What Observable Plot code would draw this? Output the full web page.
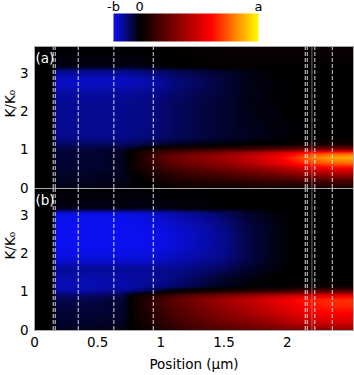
<!DOCTYPE html>
<html>
<head>
<meta charset="utf-8">
<script src="https://cdn.jsdelivr.net/npm/d3@7"></script>
<script src="https://cdn.jsdelivr.net/npm/@observablehq/plot@0.6"></script>
<style>
  body { margin: 0; background: #fff; }
  svg { display: block; }
</style>
</head>
<body>
<div id="chart"></div>
<script>
// ---- data (values in units of a; -b = -B) ----
const B = 0.22;
const barTicks = [-B, 0, 1];
const barTickLabels = ["-b", "0", "a"];
const xTicks = [0, 0.5, 1, 1.5, 2];
const yTicks = [0, 1, 2, 3];
const panels = ["a", "b"];
const panelLabels = ["(a)", "(b)"];
const dashedX = [0.148, 0.164, 0.346, 0.628, 0.94, 2.143, 2.159, 2.219, 2.357];
const solidX = [2.196];

// grid positions (μm) and K/K0 rows
const xs = [0, 0.15, 0.17, 0.4, 0.7, 0.8, 0.95, 1.1, 1.3, 1.5, 1.7, 1.9, 2.05, 2.2, 2.35, 2.525];
const ks = [0, 0.2, 0.45, 0.65, 0.8, 0.92, 1.02, 1.15, 1.35, 1.6, 1.85, 2.2, 2.5, 2.7, 2.85, 3.05, 3.18, 3.7];

const panelA = [
  [0, 0, -0.02, -0.02, -0.015, -0.01, 0, 0.01, 0.02, 0.02, 0.03, 0.03, 0.03, 0.04, 0.04, 0.04],
  [0, 0, -0.03, -0.03, -0.02, 0, 0.03, 0.06, 0.08, 0.1, 0.12, 0.14, 0.15, 0.17, 0.18, 0.18],
  [0, 0, -0.04, -0.04, -0.03, 0.02, 0.08, 0.14, 0.18, 0.22, 0.27, 0.33, 0.38, 0.45, 0.48, 0.48],
  [0, 0, -0.05, -0.05, -0.03, 0.04, 0.14, 0.22, 0.28, 0.34, 0.42, 0.52, 0.6, 0.7, 0.74, 0.76],
  [0, 0, -0.05, -0.05, -0.03, 0.05, 0.16, 0.26, 0.32, 0.38, 0.46, 0.56, 0.67, 0.8, 0.86, 0.88],
  [0, 0, -0.05, -0.05, -0.03, 0.04, 0.12, 0.2, 0.26, 0.32, 0.4, 0.5, 0.58, 0.68, 0.72, 0.74],
  [0, 0, -0.06, -0.06, -0.04, 0, 0.05, 0.08, 0.1, 0.13, 0.16, 0.2, 0.24, 0.28, 0.3, 0.3],
  [0, 0, -0.09, -0.09, -0.09, -0.08, -0.06, -0.04, -0.02, -0.01, 0, 0.01, 0.02, 0.03, 0.04, 0.04],
  [0, 0, -0.13, -0.13, -0.13, -0.12, -0.11, -0.085, -0.065, -0.045, -0.03, -0.015, -0.005, 0, 0.005, 0.01],
  [0, 0, -0.135, -0.135, -0.13, -0.125, -0.115, -0.087, -0.065, -0.045, -0.025, -0.012, -0.005, 0, 0, 0],
  [0, 0, -0.135, -0.135, -0.13, -0.125, -0.115, -0.087, -0.065, -0.045, -0.022, -0.01, 0, 0, 0, 0],
  [0, 0, -0.135, -0.135, -0.13, -0.125, -0.115, -0.087, -0.065, -0.043, -0.02, -0.008, 0, 0, 0, 0],
  [0, 0, -0.15, -0.15, -0.145, -0.14, -0.13, -0.1, -0.075, -0.05, -0.02, -0.005, 0, 0, 0, 0],
  [0, 0, -0.18, -0.18, -0.175, -0.17, -0.15, -0.115, -0.085, -0.055, -0.02, -0.005, 0, 0, 0, 0],
  [0, 0, -0.18, -0.18, -0.175, -0.17, -0.15, -0.115, -0.085, -0.055, -0.02, -0.005, 0, 0, 0, 0],
  [0, 0, -0.13, -0.13, -0.13, -0.12, -0.1, -0.08, -0.06, -0.04, -0.015, 0, 0, 0, 0, 0],
  [0, 0, -0.02, -0.02, -0.02, -0.02, -0.01, 0, 0.005, 0.01, 0.01, 0.01, 0.01, 0.01, 0.01, 0.01],
  [0, 0, 0, 0, 0, 0, 0, 0.01, 0.015, 0.02, 0.02, 0.02, 0.02, 0.02, 0.02, 0.02]
];

const panelB = [
  [0, 0, -0.03, -0.03, -0.02, 0, 0.05, 0.1, 0.14, 0.18, 0.21, 0.25, 0.28, 0.3, 0.32, 0.32],
  [0, 0, -0.04, -0.04, -0.03, 0.02, 0.08, 0.14, 0.2, 0.26, 0.31, 0.37, 0.42, 0.47, 0.5, 0.5],
  [0, 0, -0.05, -0.05, -0.04, 0.03, 0.1, 0.17, 0.25, 0.32, 0.39, 0.46, 0.52, 0.58, 0.6, 0.6],
  [0, 0, -0.06, -0.06, -0.04, 0.04, 0.12, 0.2, 0.28, 0.36, 0.43, 0.51, 0.57, 0.63, 0.65, 0.66],
  [0, 0, -0.07, -0.07, -0.05, 0.04, 0.12, 0.21, 0.3, 0.38, 0.45, 0.53, 0.6, 0.65, 0.67, 0.68],
  [0, 0, -0.1, -0.1, -0.07, 0.02, 0.08, 0.15, 0.22, 0.28, 0.34, 0.4, 0.45, 0.5, 0.52, 0.53],
  [0, 0, -0.15, -0.15, -0.13, -0.1, -0.06, 0, 0.04, 0.07, 0.1, 0.13, 0.16, 0.2, 0.22, 0.22],
  [0, 0, -0.17, -0.17, -0.16, -0.15, -0.13, -0.1, -0.06, -0.03, -0.01, 0, 0.01, 0.02, 0.02, 0.02],
  [0, 0, -0.16, -0.16, -0.155, -0.15, -0.14, -0.12, -0.08, -0.04, -0.015, 0, 0, 0, 0, 0],
  [0, 0, -0.14, -0.14, -0.14, -0.14, -0.135, -0.13, -0.11, -0.08, -0.04, -0.012, 0, 0, 0, 0],
  [0, 0, -0.2, -0.2, -0.2, -0.2, -0.19, -0.17, -0.15, -0.12, -0.06, -0.02, 0, 0, 0, 0],
  [0, 0, -0.22, -0.22, -0.22, -0.22, -0.215, -0.2, -0.17, -0.13, -0.065, -0.02, 0, 0, 0, 0],
  [0, 0, -0.22, -0.22, -0.22, -0.22, -0.215, -0.2, -0.17, -0.13, -0.065, -0.02, 0, 0, 0, 0],
  [0, 0, -0.22, -0.22, -0.22, -0.22, -0.21, -0.19, -0.16, -0.12, -0.06, -0.02, 0, 0, 0, 0],
  [0, 0, -0.22, -0.22, -0.22, -0.215, -0.205, -0.18, -0.15, -0.11, -0.05, -0.015, 0, 0, 0, 0],
  [0, 0, -0.21, -0.21, -0.21, -0.2, -0.19, -0.16, -0.13, -0.09, -0.04, -0.01, 0, 0, 0, 0],
  [0, 0, -0.02, -0.02, -0.02, -0.02, -0.02, -0.015, -0.01, -0.005, 0, 0, 0, 0, 0, 0],
  [0, 0, 0, 0, 0, 0, 0, 0, 0, 0, 0, 0, 0, 0, 0, 0]
];

// ---- build table ----
const cells = [];
[panelA, panelB].forEach((grid, p) => {
  grid.forEach((row, i) => row.forEach((v, j) => {
    cells.push({panel: panels[p], x: xs[j], k: ks[i], v});
  }));
});

const X_MAX = 2.525, K_MAX = 3.7;
const font = "'DejaVu Sans', sans-serif";

const colorOpts = {
  type: "linear",
  domain: [-B, 0, 0.6, 1],
  range: ["#0a10ee", "#000000", "#ff0000", "#ffff00"],
  interpolate: "rgb",
  clamp: true
};

// ---- colorbar ----
const bar = Plot.plot({
  width: 354, height: 46,
  marginLeft: 113, marginRight: 96, marginTop: 13, marginBottom: 5,
  style: {fontFamily: font, fontSize: "13px", color: "#000", background: "#fff", overflow: "visible"},
  x: {domain: [-B, 1], axis: null},
  y: {domain: [0, 1], axis: null},
  color: colorOpts,
  marks: [
    Plot.raster({x1: -B, x2: 1, y1: 0, y2: 1, pixelSize: 1, fill: (x, y) => x}),
    Plot.text(barTicks, {x: (d) => d, text: (d, i) => barTickLabels[i], frameAnchor: "top",
      dy: -6.5, lineAnchor: "middle", fill: "black", fontSize: 13})
  ]
});

// ---- main faceted heatmap ----
const main = Plot.plot({
  width: 354, height: 329,
  marginLeft: 34, marginRight: 1, marginTop: 0, marginBottom: 45,
  style: {fontFamily: font, fontSize: "13.5px", color: "#000", background: "#fff"},
  x: {domain: [0, X_MAX], ticks: xTicks, tickSize: 0, tickPadding: 7, tickFormat: (d) => String(d), label: null},
  y: {domain: [0, K_MAX], ticks: yTicks, tickSize: 0, tickPadding: 6, tickFormat: (d) => String(d), label: null},
  fy: {domain: panels, axis: null, padding: 0},
  color: colorOpts,
  marks: [
    Plot.raster(cells, {x: "x", y: "k", fill: "v", fy: "panel", interpolate: "barycentric",
      x1: 0, x2: X_MAX, y1: 0, y2: K_MAX, pixelSize: 1}),
    Plot.ruleX(dashedX, {stroke: "#ffffff", strokeOpacity: 0.85, strokeWidth: 1, strokeDasharray: "4,2"}),
    Plot.ruleX(solidX, {stroke: "#999999", strokeOpacity: 0.7, strokeWidth: 1}),
    Plot.frame({stroke: "#aaaaaa", strokeWidth: 1}),
    Plot.text(panels, {fy: (d) => d, text: (d, i) => panelLabels[i], frameAnchor: "top-left",
      dx: 1, dy: 12.5, lineAnchor: "middle", fill: "white", fontSize: 13.5}),
    Plot.text(panels, {fy: (d) => d, text: () => "K/K\u2080", frameAnchor: "left",
      dx: -24, rotate: -90, fill: "black", fontSize: 13.5}),
    Plot.text(["b"], {fy: (d) => d, text: () => "Position (\u03bcm)", frameAnchor: "bottom",
      lineAnchor: "middle", dy: 34, fill: "black", fontSize: 13.5})
  ]
});

const root = document.getElementById("chart");
root.appendChild(bar);
root.appendChild(main);
</script>
</body>
</html>
